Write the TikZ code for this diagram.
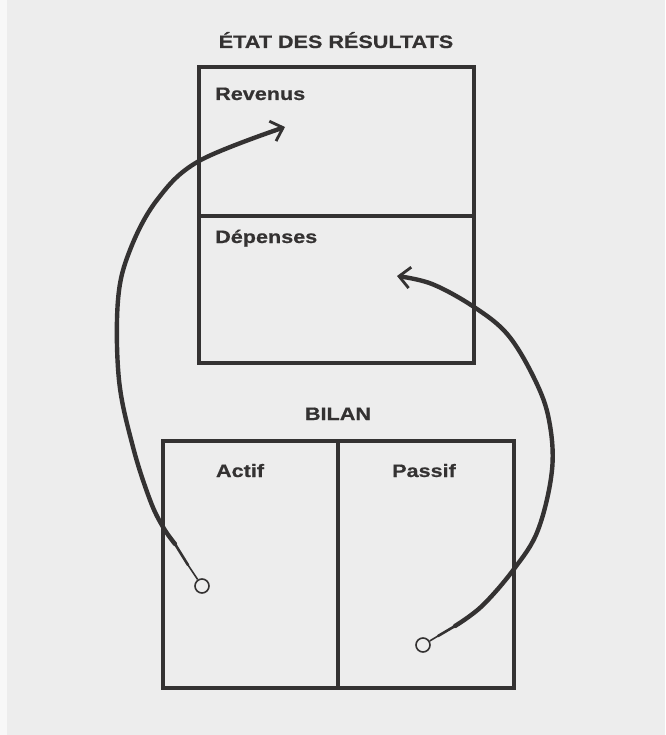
\documentclass[tikz,border=0pt]{standalone}
\usepackage{fontspec}
\newfontfamily\lab{Liberation Sans Bold}[FakeStretch=1.2,FakeBold=0.6]
\usetikzlibrary{arrows.meta}
\definecolor{ink}{HTML}{343232}
\definecolor{paper}{HTML}{EDEDED}
\tikzset{
  txt/.style={inner sep=0pt, text=ink, font=\lab\fontsize{18}{21}\selectfont},
  boxline/.style={draw=ink, line width=3.2pt},
  tail/.style={circle, draw=ink, line width=1.6pt, minimum size=14pt, inner sep=0pt, fill=paper},
  thin/.style={draw=ink, line width=1.6pt},
  mid/.style={draw=ink, line width=2.6pt, line cap=round},
  thick/.style={draw=ink, line width=4.4pt, line cap=round},
  tip/.style={-{Straight Barb[length=11pt,width=21pt,line width=2.8pt]}}
}
\begin{document}
\begin{tikzpicture}[x=1pt,y=-1pt]
\useasboundingbox (0,0) rectangle (665,735);
\fill[paper] (0,0) rectangle (665,735);
\fill[white!60!paper] (0,0) rectangle (7,735);

% titles and boxes
\node[txt, anchor=base] (t1) at (336,48) {ÉTAT DES RÉSULTATS};
\draw[boxline] (199,67) rectangle (474,363);
\draw[boxline] (199,216) -- (474,216);
\node[txt, anchor=base west] (rev) at (215,100) {Revenus};
\node[txt, anchor=base west] (dep) at (215,243) {Dépenses};

\node[txt, anchor=base] (t2) at (338,420) {BILAN};
\draw[boxline] (163,441) rectangle (514,688);
\draw[boxline] (338,441) -- (338,688);
\node[txt, anchor=base] (act) at (240,477) {Actif};
\node[txt, anchor=base] (pas) at (424,477) {Passif};

% left arrow
\node[tail] (c1) at (202,586) {};
\coordinate (l0) at (188,565);
\coordinate (l1) at (175,544);
\coordinate (l2) at (163,527);
\coordinate (l3) at (150,500);
\coordinate (l4) at (133,447);
\coordinate (l5) at (119,380);
\coordinate (l6) at (118,300);
\coordinate (l7) at (130,250);
\coordinate (l8) at (157,200);
\coordinate (l9) at (199,161);
\coordinate (tipL) at (285,127);
\draw[thin] (c1) -- (l0);
\draw[mid] (l0) -- (l1);
\draw[thick, tip] plot[smooth, tension=0.6] coordinates {(l1) (l2) (l3) (l4) (l5) (l6) (l7) (l8) (l9) (tipL)};

% right arrow
\node[tail] (c2) at (423,645) {};
\coordinate (r0) at (438,636);
\coordinate (r1) at (455,626);
\coordinate (r2) at (482,606);
\coordinate (r3) at (514,569);
\coordinate (r4) at (538,530);
\coordinate (r5) at (552,470);
\coordinate (r6) at (549,420);
\coordinate (r7) at (535,380);
\coordinate (r8) at (508,335);
\coordinate (r9) at (474,307);
\coordinate (r10) at (432,284);
\coordinate (tipR) at (397,276);
\draw[thin] (c2) -- (r0);
\draw[mid] (r0) -- (r1);
\draw[thick, tip] plot[smooth, tension=0.6] coordinates {(r1) (r2) (r3) (r4) (r5) (r6) (r7) (r8) (r9) (r10) (tipR)};
\end{tikzpicture}
\end{document}
